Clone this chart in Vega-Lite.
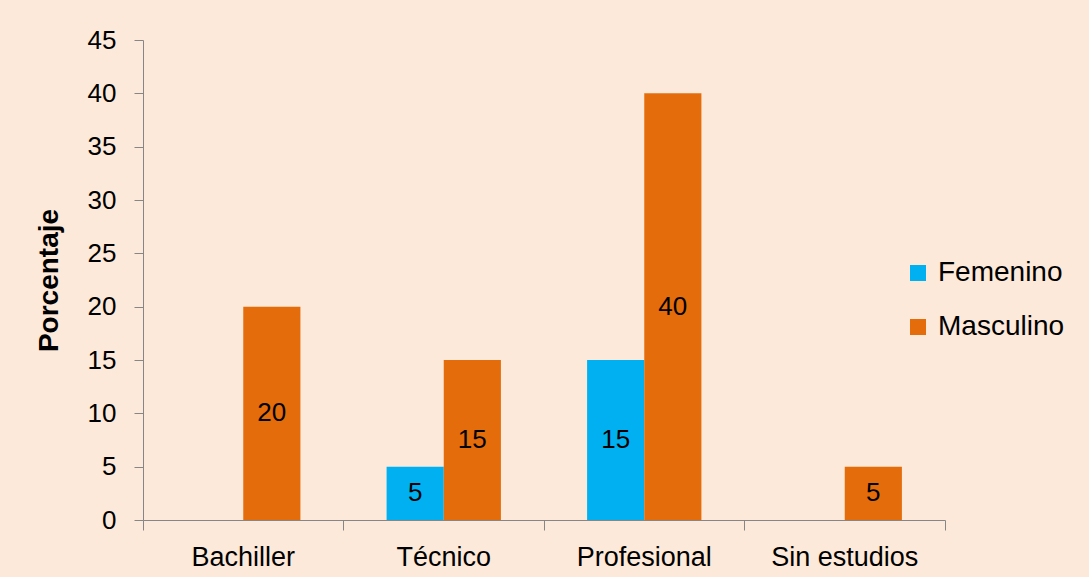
{
  "$schema": "https://vega.github.io/schema/vega-lite/v6.json",
  "width": 802,
  "height": 480,
  "autosize": {"type": "none"},
  "padding": {"left": 143, "top": 40, "right": 144, "bottom": 57},
  "background": "#FDE9D9",
  "config": {"view": {"stroke": null}, "font": "Liberation Sans"},
  "data": {
    "values": [
      {"nivel": "Bachiller", "sexo": "Femenino", "valor": 0},
      {"nivel": "Bachiller", "sexo": "Masculino", "valor": 20},
      {"nivel": "Técnico", "sexo": "Femenino", "valor": 5},
      {"nivel": "Técnico", "sexo": "Masculino", "valor": 15},
      {"nivel": "Profesional", "sexo": "Femenino", "valor": 15},
      {"nivel": "Profesional", "sexo": "Masculino", "valor": 40},
      {"nivel": "Sin estudios", "sexo": "Femenino", "valor": 0},
      {"nivel": "Sin estudios", "sexo": "Masculino", "valor": 5}
    ]
  },
  "encoding": {
    "x": {
      "field": "nivel",
      "type": "nominal",
      "sort": ["Bachiller", "Técnico", "Profesional", "Sin estudios"],
      "scale": {"paddingInner": 0, "paddingOuter": 0},
      "axis": {
        "title": null,
        "labelAngle": 0,
        "labelFontSize": 27,
        "labelColor": "black",
        "labelPadding": 14,
        "tickSize": 10,
        "bandPosition": 1,
        "tickExtra": true,
        "domainColor": "#868686",
        "tickColor": "#868686",
        "grid": false
      }
    },
    "xOffset": {
      "field": "sexo",
      "type": "nominal",
      "sort": ["Femenino", "Masculino"],
      "scale": {"paddingInner": 0, "paddingOuter": 0.754}
    }
  },
  "layer": [
    {
      "mark": {"type": "bar"},
      "encoding": {
        "y": {
          "field": "valor",
          "type": "quantitative",
          "scale": {"domain": [0, 45], "nice": false},
          "axis": {
            "title": "Porcentaje",
            "titleFontSize": 28,
            "titleFontWeight": "bold",
            "titleColor": "black",
            "titlePadding": 24,
            "values": [0, 5, 10, 15, 20, 25, 30, 35, 40, 45],
            "labelFontSize": 26,
            "labelColor": "black",
            "labelPadding": 18,
            "tickSize": 9,
            "domainColor": "#868686",
            "tickColor": "#868686",
            "grid": false
          }
        },
        "color": {
          "field": "sexo",
          "type": "nominal",
          "scale": {"domain": ["Femenino", "Masculino"], "range": ["#00B0F0", "#E46C0A"]},
          "legend": {
            "title": null,
            "orient": "none",
            "legendX": 761,
            "legendY": 219,
            "symbolType": "square",
            "symbolSize": 256,
            "symbolStrokeWidth": 0,
            "labelFontSize": 28,
            "labelColor": "black",
            "labelOffset": 6,
            "rowPadding": 26
          }
        }
      }
    },
    {
      "transform": [{"filter": "datum.valor > 0"}],
      "mark": {"type": "text", "fontSize": 26, "color": "black", "baseline": "middle"},
      "encoding": {
        "y": {
          "field": "valor",
          "type": "quantitative",
          "scale": {"domain": [0, 90], "nice": false},
          "axis": null
        },
        "text": {"field": "valor", "type": "quantitative"}
      }
    }
  ],
  "resolve": {"scale": {"y": "independent"}}
}
